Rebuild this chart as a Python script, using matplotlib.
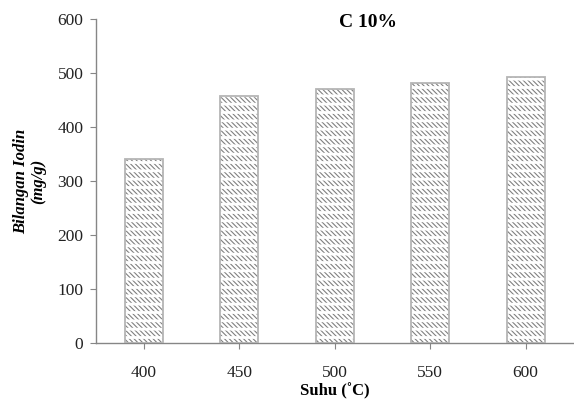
import matplotlib.pyplot as plt
import numpy as np

plt.rcParams['font.family'] = ['Liberation Serif', 'DejaVu Serif']
plt.rcParams['hatch.linewidth'] = 0.8

suhu = ['400', '450', '500', '550', '600']
bilangan_iodin = [341, 458, 470, 481, 492]

fig = plt.figure(figsize=(5.74, 4.03), dpi=100)
ax = fig.add_axes([0.167, 0.149, 0.832, 0.804])

x = np.arange(len(suhu))
ax.bar(x, bilangan_iodin, width=0.4, color='white', edgecolor='#808080',
       hatch='\\\\\\\\\\\\\\', linewidth=0.0, zorder=2)
# white horizontal stripes to break the hatching into rows
plt.rcParams['hatch.linewidth'] = 2.0
ax.bar(x, bilangan_iodin, width=0.4, color='none', edgecolor='white',
       hatch='--', linewidth=0.0, zorder=3)
ax.bar(x, bilangan_iodin, width=0.4, color='none', edgecolor='#b5b5b5',
       linewidth=1.3, zorder=4)

ax.set_xlim(-0.5, len(suhu) - 0.5)
ax.set_ylim(0, 600)
ax.set_yticks(range(0, 601, 100))
ax.set_xticks(x)
ax.set_xticklabels(suhu)

for side in ['top', 'right']:
    ax.spines[side].set_visible(False)
for side in ['left', 'bottom']:
    ax.spines[side].set_color('#868686')
    ax.spines[side].set_linewidth(1.0)

ax.tick_params(axis='both', colors='#868686', labelcolor='#222222',
               labelsize=12.5, length=4, direction='out')
ax.tick_params(axis='x', pad=12)
ax.tick_params(axis='y', pad=5)

ax.set_xlabel('Suhu (˚C)', fontsize=12, fontweight='bold', labelpad=1)
ax.set_ylabel('Bilangan Iodin\n(mg/g)', fontsize=12, fontweight='bold',
              style='italic', labelpad=8, linespacing=1.05)
ax.text(0.57, 0.99, 'C 10%', transform=ax.transAxes, ha='center', va='center',
        fontsize=14, fontweight='bold')

fig.savefig('out.png', dpi=100)
